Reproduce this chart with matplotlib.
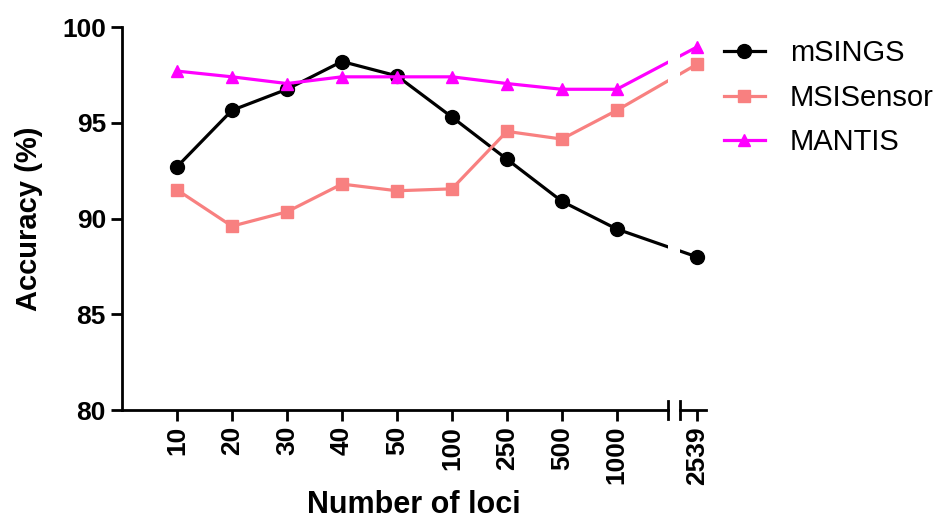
import numpy as np
import matplotlib.pyplot as plt

plt.rcParams['font.family'] = ['Liberation Sans', 'DejaVu Sans']

loci = ["10", "20", "30", "40", "50", "100", "250", "500", "1000", "2539"]
msings = [92.7, 95.65, 96.75, 98.2, 97.45, 95.3, 93.1, 90.9, 89.45, 88.0]
msisensor = [91.5, 89.6, 90.35, 91.8, 91.45, 91.55, 94.55, 94.15, 95.65, 98.05]
mantis = [97.7, 97.4, 97.05, 97.4, 97.4, 97.4, 97.05, 96.75, 96.75, 98.95]

# categories evenly spaced, last one sits after the axis break
xpos = list(range(1, 10)) + [10.45]

fig = plt.figure(figsize=(9.44, 5.2), dpi=100)
ax = fig.add_axes([0.1292, 0.2115, 0.5784, 0.7365])
ax2 = fig.add_axes([0.7203, 0.2115, 0.02754, 0.7365], sharey=ax)

series = [
    ("mSINGS", msings, "black", "o", 10),
    ("MSISensor", msisensor, "#F88080", "s", 9),
    ("MANTIS", mantis, "#FF00FF", "^", 9),
]
for a in (ax, ax2):
    for name, vals, col, mk, ms in series:
        a.plot(xpos, vals, color=col, marker=mk, markersize=ms, lw=2.3,
               label=name)

ax.set_xlim(0, 9.93)
ax2.set_xlim(10.145, 10.618)
ax.set_ylim(80, 100)
ax.set_yticks([80, 85, 90, 95, 100])

for a in (ax, ax2):
    for s in ("top", "right"):
        a.spines[s].set_visible(False)
    a.spines["bottom"].set_linewidth(2)
    a.spines["left"].set_linewidth(2)
    a.tick_params(width=2, length=8, labelsize=19)
ax2.spines["left"].set_visible(False)
ax2.tick_params(axis="y", left=False, labelleft=False)

ax.set_xticks(xpos[:9])
ax.set_xticklabels(loci[:9], rotation=90, fontweight="bold")
ax2.set_xticks(xpos[9:])
ax2.set_xticklabels(loci[9:], rotation=90, fontweight="bold")
for lbl in ax.get_yticklabels():
    lbl.set_fontweight("bold")

# break marks
for a, xb in ((ax, 1.0), (ax2, 0.0)):
    a.plot([xb, xb], [-0.023, 0.023], transform=a.transAxes, color="black",
           lw=2, clip_on=False)

ax.set_ylabel("Accuracy (%)", fontsize=21, fontweight="bold", labelpad=14)
fig.text(0.438, 0.014, "Number of loci", fontsize=22, fontweight="bold",
         ha="center", va="baseline")

h, l = ax.get_legend_handles_labels()
fig.legend(h, l, loc="upper left", bbox_to_anchor=(0.739, 0.975), frameon=False,
           fontsize=21, handlelength=1.4, labelspacing=0.57, handletextpad=0.86)

fig.savefig("out.png", dpi=100)
